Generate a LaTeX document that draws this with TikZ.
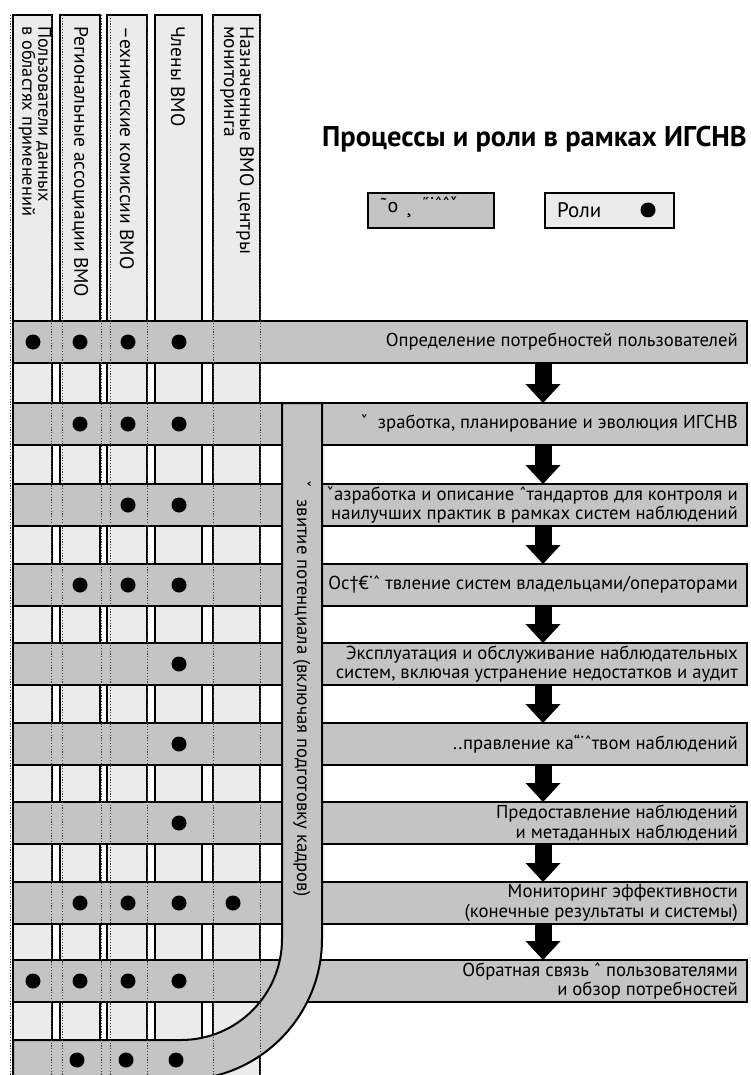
\documentclass[tikz,border=0pt]{standalone}
\usepackage{fontspec}
\setmainfont{PT Sans}
\usetikzlibrary{arrows.meta}
\definecolor{bargray}{HTML}{C4C4C4}
\definecolor{colgray}{HTML}{EBEBEB}
\begin{document}
\begin{tikzpicture}[x=1pt,y=-1pt,
  colbox/.style={draw=black, line width=2pt, fill=colgray},
  barbox/.style={draw=black, line width=2pt, fill=bargray, rectangle, minimum width=734pt, minimum height=42pt, anchor=north west, inner sep=0pt, outer sep=0pt},
  hidden/.style={draw=black!75, line width=0.8pt, dash pattern=on 1.2pt off 1.6pt},
  role/.style={circle, fill=black, minimum size=15pt, inner sep=0pt},
  bartext/.style={anchor=east, align=right, font=\fontsize{18.7}{19.5}\selectfont, inner sep=0pt},
  collabel/.style={rotate=-90, anchor=west, align=left, font=\fontsize{19.5}{16}\selectfont, inner sep=0pt},
  flow/.style={line width=17pt, -{Triangle[width=35pt,length=19pt,line width=0pt]}},
  legbox/.style={draw=black, line width=2pt, minimum width=126pt, minimum height=35pt, anchor=north west, inner sep=0pt},
]
\useasboundingbox (0,0) rectangle (750,1075);
\clip (0,0) rectangle (750,1075);
\fill[white] (0,0) rectangle (750,1075);

% columns (roles)
\draw[colbox] (13,15) rectangle (52,1090);
\draw[colbox] (60,15) rectangle (100,1090);
\draw[colbox] (107,15) rectangle (147,1090);
\draw[colbox] (155,15) rectangle (202,1090);
\draw[colbox] (213,15) rectangle (260,1090);

% process bars
\node[barbox] (b1) at (13,321) {};
\node[barbox] (b2) at (13,403) {};
\node[barbox] (b3) at (13,484) {};
\node[barbox] (b4) at (13,564) {};
\node[barbox] (b5) at (13,643) {};
\node[barbox] (b6) at (13,723) {};
\node[barbox] (b7) at (13,802) {};
\node[barbox] (b8) at (13,882) {};
\node[barbox] (b9) at (13,960) {};

% capacity development band
\draw[draw=black, line width=2pt, fill=bargray]
  (282,403) -- (322,403) -- (322,939) arc[start angle=0,end angle=90,radius=141]
  -- (13,1080) -- (13,1040) -- (181,1040) arc[start angle=90,end angle=0,radius=101] -- cycle;
\coordinate (b10) at (13,1060);

% hidden column edges
\foreach \x in {10.5,51,62,101,110,147,213,260}
  \draw[hidden] (\x,15) -- (\x,1075);

% role dots
\foreach \b/\cols in {b1/{33,80,128,179}, b2/{80,128,179}, b3/{128,179}, b4/{80,128,179},
    b5/{179}, b6/{179}, b7/{179}, b8/{80,128,179,233}, b9/{33,80,128,179}}
  \foreach \c in \cols
    \node[role] at (\c,0 |- \b.center) {};
\foreach \c in {77,126,176}
  \node[role] at (\c,0 |- b10) {};

% flow arrows
\coordinate (ax) at (543,0);
\draw[flow] (b1.south -| ax) -- (b2.north -| ax);
\draw[flow] (b2.south -| ax) -- (b3.north -| ax);
\draw[flow] (b3.south -| ax) -- (b4.north -| ax);
\draw[flow] (b4.south -| ax) -- (b5.north -| ax);
\draw[flow] (b5.south -| ax) -- (b6.north -| ax);
\draw[flow] (b6.south -| ax) -- (b7.north -| ax);
\draw[flow] (b7.south -| ax) -- (b8.north -| ax);
\draw[flow] (b8.south -| ax) -- (b9.north -| ax);

% bar texts
\node[bartext] (t1) at ([xshift=-9pt]b1.east) {Определение потребностей пользователей};
\node[bartext] (t2) at ([xshift=-9pt]b2.east) {ˇ\hspace{10pt}зработка, планирование и эволюция ИГСНВ};
\node[bartext] (t3) at ([xshift=-9pt]b3.east) {ˇазработка и описание ˆтандартов для контроля и\\наилучших практик в рамках систем наблюдений};
\node[bartext] (t4) at ([xshift=-9pt]b4.east) {Ос†€˙ˆ твление систем владельцами/операторами};
\node[bartext] (t5) at ([xshift=-9pt]b5.east) {Эксплуатация и обслуживание наблюдательных\\систем, включая устранение недостатков и аудит};
\node[bartext] (t6) at ([xshift=-9pt]b6.east) {..правление ка“˙ˆтвом наблюдений};
\node[bartext] (t7) at ([xshift=-9pt]b7.east) {Предоставление наблюдений\hspace{3pt}\\и метаданных наблюдений};
\node[bartext] (t8) at ([xshift=-9pt]b8.east) {Мониторинг эффективности\\(конечные результаты и системы)};
\node[bartext] (t9) at ([xshift=-9pt]b9.east) {Обратная связь ˆ пользователями\\и обзор потребностей};

% band text
\node[rotate=-90, anchor=west, font=\fontsize{18.7}{20}\selectfont, inner sep=0pt] (bt) at (302,480)
  {ˇ\hspace{12pt}звитие потенциала (включая подготовку кадров)};

% column labels
\node[collabel, font=\fontsize{18.3}{16}\selectfont] (l1) at (35,26) {Пользователи данных\\в областях применений};
\node[collabel] (l2) at (80,26) {Региональные ассоциации ВМО};
\node[collabel] (l3) at (127,26) {–ехнические комиссии ВМО};
\node[collabel] (l4) at (178,26) {Члены ВМО};
\node[collabel] (l5) at (237,26) {Назначенные ВМО центры\\мониторинга};

% title and legend
\node[font=\bfseries\fontsize{28.5}{30}\selectfont, anchor=east, inner sep=0pt] (title) at (747,139) {Процессы и роли в рамках ИГСНВ};
\node[legbox, fill=bargray] (lg1) at (367,192) {};
\node[legbox, fill=colgray, minimum width=129pt] (lg2) at (544,192) {};
\node[font=\fontsize{20}{20}\selectfont, inner sep=0pt] (lg1a) at (389,205) {˜о};
\node[font=\fontsize{20}{20}\selectfont, inner sep=0pt] (lg1b) at (440,204) {˝˙ˆˆˇ};
\node[font=\fontsize{20}{20}\selectfont, inner sep=0pt] (lg1c) at (409,216) {¸};
\node[font=\fontsize{21}{22}\selectfont, inner sep=0pt, anchor=west] (lg2a) at (557,210) {Роли};
\node[role] (lg2b) at (648,210) {};
\end{tikzpicture}
\end{document}
